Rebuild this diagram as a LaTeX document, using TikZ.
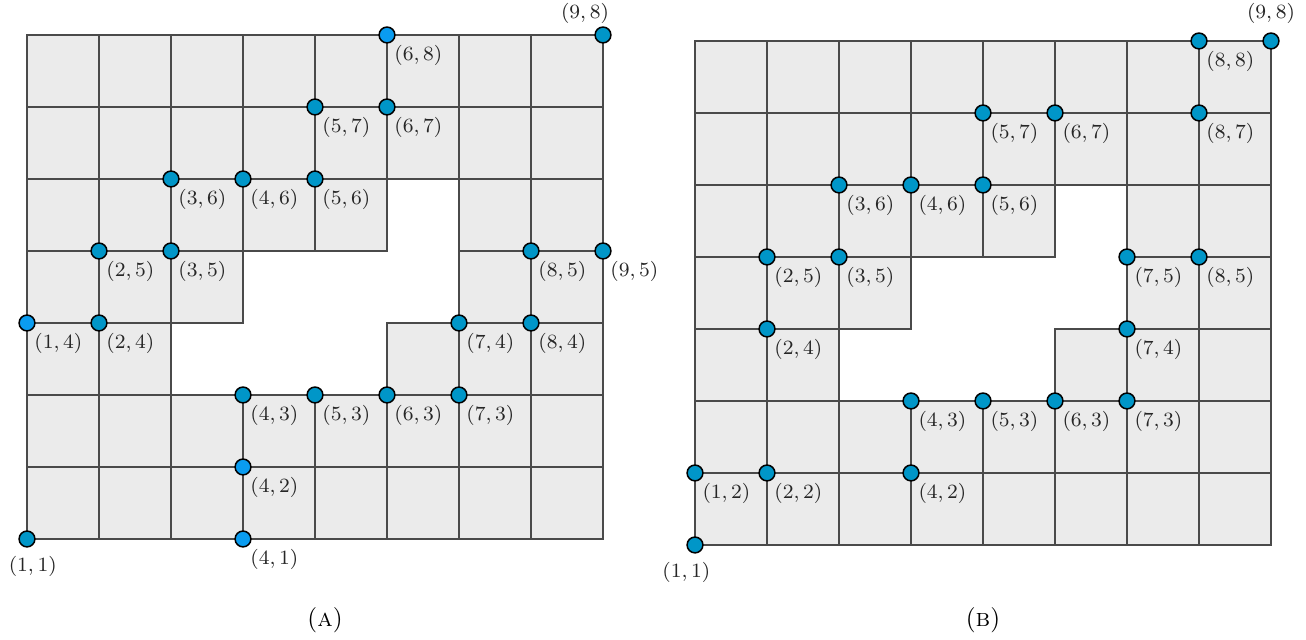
\documentclass[tikz,border=0pt]{standalone}
\usepackage{amsmath,amssymb}
\usepackage{tikz}
\usetikzlibrary{positioning}

\definecolor{cellgray}{HTML}{EBEBEB}
\definecolor{linegray}{HTML}{4A4A4A}
\definecolor{dotteal}{HTML}{0096C8}
\definecolor{dotblue}{HTML}{0A9CF0}

% outline of the missing cells
\newcommand{\holeoutline}{(3,3) -- (6,3) -- (6,4) -- (7,4) -- (7,6) -- (6,6) -- (6,5) -- (4,5) -- (4,4) -- (3,4) -- cycle}

\begin{document}
\begin{tikzpicture}[
  cellfill/.style={fill=cellgray, even odd rule},
  gridline/.style={draw=linegray, line width=0.8pt},
  dot/.style={circle, draw=black, line width=0.6pt, fill=dotteal, minimum size=0.22cm, inner sep=0pt},
  bdot/.style={dot, fill=dotblue},
  lbl/.style={font=\footnotesize, text=black!85},
  brlbl/.style={lbl, xshift=-3pt, yshift=2pt}
]
\useasboundingbox (0.625,-0.403) rectangle (18.764,8.486);

% Grid (A)
\begin{scope}
\fill[cellfill] (1,1) rectangle (9,8) \holeoutline;
\begin{scope}[even odd rule]
\clip (1,1) rectangle (9,8) \holeoutline;
\draw[gridline] (1,1) grid (9,8);
\end{scope}
\draw[gridline] (1,1) rectangle (9,8) \holeoutline;

\foreach \x/\y in {4/3,5/3,6/3,7/3,7/4,8/4,8/5,9/5,2/4,2/5,3/5,3/6,4/6,5/6,5/7,6/7}
  \node[dot, label={[brlbl]below right:$(\x,\y)$}] (a\x\y) at (\x,\y) {};
\foreach \x/\y in {6/8,1/4,4/2,4/1}
  \node[bdot, label={[brlbl]below right:$(\x,\y)$}] (a\x\y) at (\x,\y) {};
\node[dot, label={[lbl, xshift=0.8mm]below:$(1,1)$}] (a11) at (1,1) {};
\node[dot, label={[lbl, xshift=-2.5mm, yshift=-0.85mm]above:$(9,8)$}] (a98) at (9,8) {};
\end{scope}

% Grid (B)
\begin{scope}[shift={(9.278,-0.083)}]
\fill[cellfill] (1,1) rectangle (9,8) \holeoutline;
\begin{scope}[even odd rule]
\clip (1,1) rectangle (9,8) \holeoutline;
\draw[gridline] (1,1) grid (9,8);
\end{scope}
\draw[gridline] (1,1) rectangle (9,8) \holeoutline;

\foreach \x/\y in {1/2,2/2,4/2,4/3,5/3,6/3,7/3,7/4,7/5,8/5,2/4,2/5,3/5,3/6,4/6,5/6,5/7,6/7,8/7,8/8}
  \node[dot, label={[brlbl]below right:$(\x,\y)$}] (b\x\y) at (\x,\y) {};
\node[dot, label={[lbl, xshift=-1.2mm]below:$(1,1)$}] (b11) at (1,1) {};
\node[dot, label={[lbl]above:$(9,8)$}] (b98) at (9,8) {};
\end{scope}

% Captions
\node (capA) at (5.139,-0.125) {(\textsc{a})};
\node (capB) at (14.278,-0.125) {(\textsc{b})};

\end{tikzpicture}
\end{document}
